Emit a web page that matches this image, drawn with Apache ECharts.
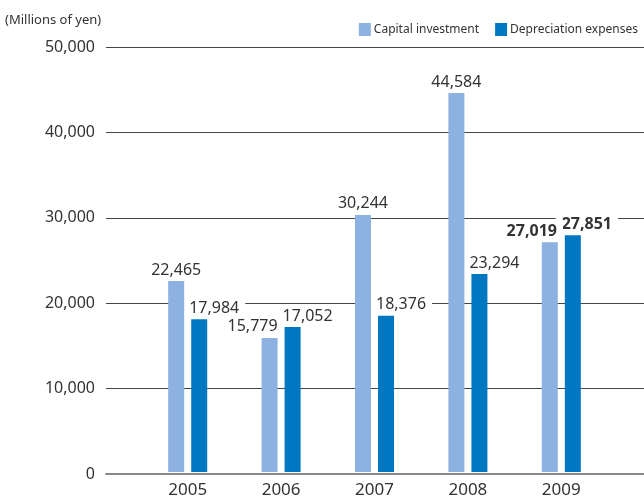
<!DOCTYPE html>
<html>
<head>
<meta charset="utf-8">
<script src="https://cdn.jsdelivr.net/npm/echarts@6/dist/echarts.min.js"></script>
<style>
  html, body { margin: 0; padding: 0; background: #fff; }
  #chart { width: 644px; height: 499px; }
</style>
</head>
<body>
<div id="chart"></div>
<script>
const years = ["2005", "2006", "2007", "2008", "2009"];
const capitalInvestment = [22465, 15779, 30244, 44584, 27019];
const depreciationExpenses = [17984, 17052, 18376, 23294, 27851];
const yTicks = [0, 10000, 20000, 30000, 40000, 50000];

// nudges so neighbouring labels don't collide (as in the printed chart)
const capLabelShift = [0, -17, 0, 0, -18];
const depLabelShift = [15, 15, 15, 15, 14];
const boldYear = "2009";

const lightBlue = "#8db1e1";
const darkBlue = "#0078c1";
const textColor = "#333";
const font = '"Noto Sans", "Open Sans", sans-serif';

function fmt(v) {
  return v.toLocaleString("en-US");
}

function buildData(values, shifts) {
  return values.map((v, i) => ({
    value: v,
    label: {
      offset: [shifts[i], 0],
      fontWeight: years[i] === boldYear ? "bold" : "normal",
    },
  }));
}

const chart = echarts.init(document.getElementById("chart"), null, { renderer: "canvas" });

// white box behind the numbers breaks the grid lines like the original
const barLabel = {
  show: true,
  position: "top",
  distance: 3,
  color: textColor,
  fontFamily: font,
  fontSize: 16,
  backgroundColor: "#fff",
  padding: [0, 6],
  formatter: p => fmt(p.value),
};

chart.setOption({
  backgroundColor: "#fff",
  animation: false,
  title: {
    text: "(Millions of yen)",
    left: 5,
    top: 14,
    padding: 0,
    textStyle: { color: textColor, fontFamily: font, fontSize: 13, fontWeight: "normal" },
  },
  legend: {
    right: 6,
    top: 23,
    itemWidth: 12,
    itemHeight: 13,
    itemGap: 16,
    padding: 0,
    icon: "rect",
    textStyle: { color: textColor, fontFamily: font, fontSize: 12, padding: [0, 0, 0, -2] },
    data: ["Capital investment", "Depreciation expenses"],
  },
  grid: [
    { left: 106, right: 0, top: 47, bottom: 25 },
    { left: 141, right: 36, top: 47, bottom: 25 },
  ],
  xAxis: [
    {
      gridIndex: 0,
      type: "category",
      data: years,
      axisLabel: { show: false },
      axisTick: { show: false },
      axisLine: { show: true, lineStyle: { color: "#888", width: 2 } },
    },
    {
      gridIndex: 1,
      type: "category",
      data: years,
      axisLine: { show: false },
      axisTick: { show: false },
      axisLabel: { color: textColor, fontFamily: font, fontSize: 17, margin: 10 },
    },
  ],
  yAxis: [
    {
      gridIndex: 0,
      type: "value",
      min: yTicks[0],
      max: yTicks[yTicks.length - 1],
      interval: yTicks[1] - yTicks[0],
      axisLine: { show: false },
      axisTick: { show: false },
      axisLabel: { color: textColor, fontFamily: font, fontSize: 16, margin: 11, formatter: v => fmt(v) },
      splitLine: { lineStyle: { color: "#444", width: 1 } },
    },
    {
      gridIndex: 1,
      type: "value",
      min: yTicks[0],
      max: yTicks[yTicks.length - 1],
      interval: yTicks[1] - yTicks[0],
      show: false,
      splitLine: { show: false },
    },
  ],
  series: [
    {
      name: "Capital investment",
      type: "bar",
      xAxisIndex: 1,
      yAxisIndex: 1,
      z: 3,
      barWidth: 16,
      barGap: "44%",
      itemStyle: { color: lightBlue },
      label: barLabel,
      data: buildData(capitalInvestment, capLabelShift),
    },
    {
      name: "Depreciation expenses",
      type: "bar",
      xAxisIndex: 1,
      yAxisIndex: 1,
      z: 2,
      barWidth: 16,
      barGap: "44%",
      itemStyle: { color: darkBlue },
      label: barLabel,
      data: buildData(depreciationExpenses, depLabelShift),
    },
  ],
});
</script>
</body>
</html>
